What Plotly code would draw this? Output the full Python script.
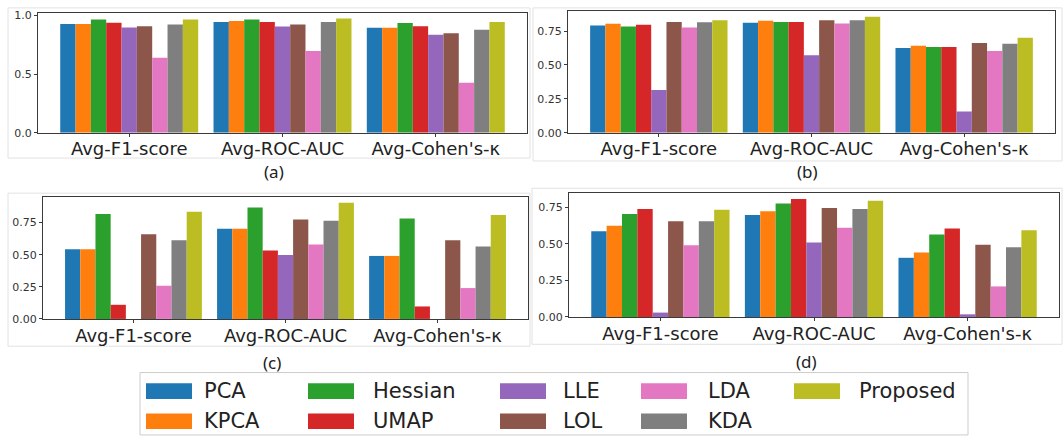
import plotly.graph_objects as go

W, H = 1063, 440

methods = ["PCA", "KPCA", "Hessian", "UMAP", "LLE", "LOL", "LDA", "KDA", "Proposed"]
colors = ["#1f77b4", "#ff7f0e", "#2ca02c", "#d62728", "#9467bd",
          "#8c564b", "#e377c2", "#7f7f7f", "#bcbd22"]
metrics = ["Avg-F1-score", "Avg-ROC-AUC", "Avg-Cohen's-κ"]

# Scores per method (order follows `methods`)
a_f1 = [0.926, 0.926, 0.965, 0.937, 0.896, 0.907, 0.638, 0.921, 0.965]
a_roc = [0.943, 0.951, 0.965, 0.943, 0.905, 0.921, 0.695, 0.943, 0.973]
a_kappa = [0.894, 0.894, 0.935, 0.907, 0.834, 0.847, 0.425, 0.877, 0.943]

b_f1 = [0.792, 0.804, 0.785, 0.797, 0.315, 0.818, 0.777, 0.816, 0.830]
b_roc = [0.811, 0.826, 0.818, 0.818, 0.571, 0.830, 0.806, 0.830, 0.857]
b_kappa = [0.625, 0.642, 0.632, 0.632, 0.157, 0.663, 0.603, 0.656, 0.702]

c_f1 = [0.543, 0.543, 0.816, 0.110, 0.0, 0.658, 0.258, 0.612, 0.834]
c_roc = [0.702, 0.702, 0.867, 0.533, 0.497, 0.773, 0.579, 0.763, 0.903]
c_kappa = [0.490, 0.490, 0.781, 0.097, 0.0, 0.612, 0.240, 0.564, 0.809]

d_f1 = [0.586, 0.625, 0.705, 0.739, 0.030, 0.655, 0.491, 0.655, 0.734]
d_roc = [0.698, 0.723, 0.777, 0.807, 0.509, 0.745, 0.611, 0.739, 0.795]
d_kappa = [0.405, 0.441, 0.564, 0.605, 0.018, 0.495, 0.209, 0.477, 0.593]

panel_labels = ["(a)", "(b)", "(c)", "(d)"]


def px_x(a, b):
    return [a / W, b / W]


def px_y(top, bottom):
    return [1 - bottom / H, 1 - top / H]


# (scores, axis box in pixels [x0, x1, ytop, ybottom], y tick step, y tick format,
#  sub-caption position in pixels, outer frame in pixels)
panels = [
    ((a_f1, a_roc, a_kappa), (38, 527, 9, 132), 0.5, ".1f", (274, 172), (8, 530, 4, 158)),
    ((b_f1, b_roc, b_kappa), (568, 1055, 7, 132), 0.25, ".2f", (807, 172), (533, 1062, 4, 161)),
    ((c_f1, c_roc, c_kappa), (43, 528, 198, 323), 0.25, ".2f", (272, 368), (8, 530, 194, 351)),
    ((d_f1, d_roc, d_kappa), (569, 1059, 194, 321), 0.25, ".2f", (806, 367), (532, 1062, 189, 349)),
]

fig = go.Figure()
layout = {}
shapes = []
annotations = []

for p, (scores, box, step, fmt, cap, frame) in enumerate(panels):
    sfx = "" if p == 0 else str(p + 1)
    xa, ya = "x" + sfx, "y" + sfx
    for i, m in enumerate(methods):
        fig.add_trace(go.Bar(
            x=metrics,
            y=[scores[0][i], scores[1][i], scores[2][i]],
            name=m,
            marker=dict(color=colors[i], line=dict(width=0)),
            xaxis=xa, yaxis=ya,
            showlegend=False,
        ))
    ymax = max(max(s) for s in scores) * 1.05
    x0, x1, yt, yb = box
    axis_style = dict(showline=True, mirror=True, linecolor="#3a3a3a", linewidth=1,
                      ticks="outside", ticklen=3, tickcolor="#3a3a3a",
                      showgrid=False, zeroline=False)
    layout["xaxis" + sfx] = dict(
        domain=px_x(x0, x1), anchor=ya, type="category",
        range=[-0.595, 2.595], ticklabelstandoff=-3,
        tickfont=dict(family="DejaVu Sans", size=18, color="#222"),
        **axis_style,
    )
    layout["yaxis" + sfx] = dict(
        domain=px_y(yt, yb), anchor=xa,
        range=[0, ymax], dtick=step, tick0=0, tickformat=fmt,
        tickfont=dict(family="DejaVu Sans", size=11, color="#333"),
        **axis_style,
    )
    fx0, fx1, fy0, fy1 = frame
    shapes.append(dict(type="rect", xref="paper", yref="paper",
                       x0=fx0 / W, x1=fx1 / W, y0=1 - fy1 / H, y1=1 - fy0 / H,
                       line=dict(color="#e2e2e2", width=1), layer="below"))
    annotations.append(dict(text=panel_labels[p], xref="paper", yref="paper",
                            x=cap[0] / W, y=1 - cap[1] / H, showarrow=False,
                            xanchor="center", yanchor="middle",
                            font=dict(family="Noto Sans", size=17, color="#222")))

# Legend drawn as a two-row, five-column key below the panels
shapes.append(dict(type="rect", xref="paper", yref="paper",
                   x0=140 / W, x1=968 / W, y0=1 - 442 / H, y1=1 - 378 / H,
                   line=dict(color="#cccccc", width=1), fillcolor="white", layer="below"))
patch_x = [146, 308, 500, 641, 794]
text_x = [202, 371, 561, 706, 857]
row_y = [397, 428]
for i, m in enumerate(methods):
    col, row = i // 2, i % 2
    cy = row_y[row]
    shapes.append(dict(type="rect", xref="paper", yref="paper",
                       x0=patch_x[col] / W, x1=(patch_x[col] + 46) / W,
                       y0=1 - (cy + 8) / H, y1=1 - (cy - 8) / H,
                       line=dict(width=0), fillcolor=colors[i]))
    annotations.append(dict(text=m, xref="paper", yref="paper",
                            x=text_x[col] / W, y=1 - cy / H, showarrow=False,
                            xanchor="left", yanchor="middle",
                            font=dict(family="DejaVu Sans", size=21, color="#222")))

fig.update_layout(
    width=W, height=H, autosize=False,
    margin=dict(l=0, r=0, t=0, b=0),
    paper_bgcolor="white", plot_bgcolor="white",
    barmode="group", bargap=0.1, bargroupgap=0,
    shapes=shapes, annotations=annotations,
    **layout,
)

fig.write_html("out.html")
